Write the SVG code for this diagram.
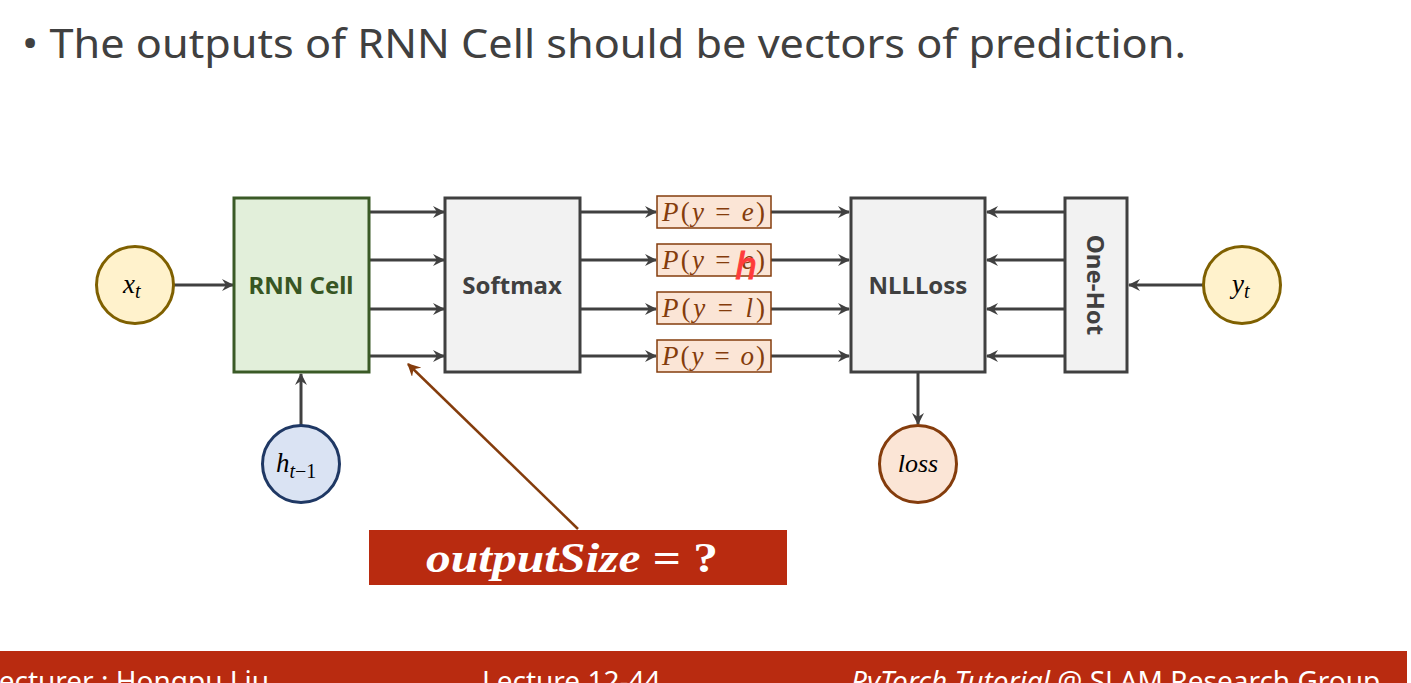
<svg xmlns="http://www.w3.org/2000/svg" width="1411" height="683" viewBox="0 0 1411 683">
<defs>
<style>
.box{stroke-width:3}
.gray{fill:#f2f2f2;stroke:#404040}
.lbl{font-family:"Noto Sans","Open Sans",sans-serif;font-weight:bold;font-size:24px;text-anchor:middle}
.math{font-family:"Liberation Serif","DejaVu Serif",serif;font-style:italic}
.up{font-style:normal}
.pbox{fill:#fbe5d6;stroke:#843c0c;stroke-width:1.5}
.ptxt{font-family:"Liberation Serif","DejaVu Serif",serif;font-size:27px;fill:#843c0c;font-style:italic}
.ln{stroke:#404040;stroke-width:3;fill:none}
.foot{font-family:"Noto Sans","Open Sans",sans-serif;font-size:28px;fill:#fff}
</style>
<marker id="ah" viewBox="0 0 12 12" refX="11" refY="6" markerWidth="12" markerHeight="12" markerUnits="userSpaceOnUse" orient="auto">
<path d="M0,0 L12,6 L0,12 L4,6 z" fill="#404040"/>
</marker>
<marker id="ahb" viewBox="0 0 12 12" refX="11" refY="6" markerWidth="13" markerHeight="13" markerUnits="userSpaceOnUse" orient="auto">
<path d="M0,0 L12,6 L0,12 L4,6 z" fill="#843c0c"/>
</marker>
</defs>
<rect width="1411" height="683" fill="#fff"/>
<text x="22" y="58" font-family="Noto Sans,Open Sans,sans-serif" font-size="40" fill="#404040" textLength="1164" lengthAdjust="spacingAndGlyphs">• The outputs of RNN Cell should be vectors of prediction.</text>

<g id="connectors">
<line class="ln" x1="174" y1="285" x2="233" y2="285" marker-end="url(#ah)"/>
<line class="ln" x1="301" y1="425" x2="301" y2="374" marker-end="url(#ah)"/>
<line class="ln" x1="369" y1="212" x2="444" y2="212" marker-end="url(#ah)"/>
<line class="ln" x1="369" y1="260" x2="444" y2="260" marker-end="url(#ah)"/>
<line class="ln" x1="369" y1="309" x2="444" y2="309" marker-end="url(#ah)"/>
<line class="ln" x1="369" y1="356" x2="444" y2="356" marker-end="url(#ah)"/>
<line class="ln" x1="580" y1="212" x2="656" y2="212" marker-end="url(#ah)"/>
<line class="ln" x1="580" y1="260" x2="656" y2="260" marker-end="url(#ah)"/>
<line class="ln" x1="580" y1="309" x2="656" y2="309" marker-end="url(#ah)"/>
<line class="ln" x1="580" y1="356" x2="656" y2="356" marker-end="url(#ah)"/>
<line class="ln" x1="771" y1="212" x2="849" y2="212" marker-end="url(#ah)"/>
<line class="ln" x1="771" y1="260" x2="849" y2="260" marker-end="url(#ah)"/>
<line class="ln" x1="771" y1="309" x2="849" y2="309" marker-end="url(#ah)"/>
<line class="ln" x1="771" y1="356" x2="849" y2="356" marker-end="url(#ah)"/>
<line class="ln" x1="1065" y1="212" x2="987" y2="212" marker-end="url(#ah)"/>
<line class="ln" x1="1065" y1="260" x2="987" y2="260" marker-end="url(#ah)"/>
<line class="ln" x1="1065" y1="309" x2="987" y2="309" marker-end="url(#ah)"/>
<line class="ln" x1="1065" y1="356" x2="987" y2="356" marker-end="url(#ah)"/>
<line class="ln" x1="1203" y1="285" x2="1129" y2="285" marker-end="url(#ah)"/>
<line class="ln" x1="918" y1="372" x2="918" y2="424" marker-end="url(#ah)"/>
<line x1="578" y1="529" x2="408" y2="364" stroke="#843c0c" stroke-width="2.5" marker-end="url(#ahb)"/>
</g>

<g id="rnn">
<rect class="box" x="234" y="198" width="135" height="174" fill="#e2efda" stroke="#3a5a26"/>
<text class="lbl" x="301" y="294" fill="#375623">RNN Cell</text>
</g>
<g id="softmax">
<rect class="box gray" x="445" y="198" width="135" height="174"/>
<text class="lbl" x="512" y="294" fill="#404040">Softmax</text>
</g>
<g id="nllloss">
<rect class="box gray" x="851" y="198" width="134" height="174"/>
<text class="lbl" x="918" y="294" fill="#404040">NLLLoss</text>
</g>
<g id="onehot">
<rect class="box gray" x="1065" y="198" width="62" height="174"/>
<text class="lbl" transform="translate(1096,285) rotate(90)" x="0" y="9" fill="#404040">One-Hot</text>
</g>

<g id="p_e">
<rect class="pbox" x="657" y="196" width="114" height="32"/>
<text class="ptxt" x="662" y="221" textLength="103" lengthAdjust="spacing">P<tspan class="up">(</tspan>y <tspan class="up">=</tspan> e<tspan class="up">)</tspan></text>
</g>
<g id="p_h">
<rect class="pbox" x="657" y="244" width="114" height="32"/>
<text class="ptxt" x="662" y="269" textLength="103" lengthAdjust="spacing">P<tspan class="up">(</tspan>y <tspan class="up">=</tspan> e<tspan class="up">)</tspan></text>
<text x="746" y="279" font-family="Liberation Sans,sans-serif" font-style="italic" font-size="38" fill="#ff3b3b" text-anchor="middle" stroke="#ff3b3b" stroke-width="1">h</text>
</g>
<g id="p_l">
<rect class="pbox" x="657" y="292" width="114" height="32"/>
<text class="ptxt" x="662" y="317" textLength="103" lengthAdjust="spacing">P<tspan class="up">(</tspan>y <tspan class="up">=</tspan> l<tspan class="up">)</tspan></text>
</g>
<g id="p_o">
<rect class="pbox" x="657" y="340" width="114" height="32"/>
<text class="ptxt" x="662" y="365" textLength="103" lengthAdjust="spacing">P<tspan class="up">(</tspan>y <tspan class="up">=</tspan> o<tspan class="up">)</tspan></text>
</g>

<g id="xt">
<circle cx="135" cy="285" r="38.5" fill="#fff2cc" stroke="#7f6000" stroke-width="3"/>
<text class="math" x="123" y="293" font-size="27" fill="#000">x<tspan font-size="20" dy="5">t</tspan></text>
</g>
<g id="yt">
<circle cx="1242" cy="285" r="38.5" fill="#fff2cc" stroke="#7f6000" stroke-width="3"/>
<text class="math" x="1232" y="293" font-size="27" fill="#000">y<tspan font-size="20" dy="5">t</tspan></text>
</g>
<g id="ht1">
<circle cx="301" cy="464" r="38.5" fill="#dae3f3" stroke="#1f3864" stroke-width="3"/>
<text class="math" x="276" y="472" font-size="27" fill="#000">h<tspan font-size="20" dy="6">t</tspan><tspan class="up" font-size="20">−1</tspan></text>
</g>
<g id="loss">
<circle cx="918" cy="464" r="38.5" fill="#fbe5d6" stroke="#843c0c" stroke-width="3"/>
<text class="math" x="918" y="472" font-size="26" fill="#000" text-anchor="middle">loss</text>
</g>

<g id="outputsize">
<rect x="369" y="530" width="418" height="55" fill="#b92b10"/>
<text x="426" y="572" font-family="Liberation Serif,DejaVu Serif,serif" font-size="42" font-weight="bold" fill="#fff" textLength="292" lengthAdjust="spacingAndGlyphs"><tspan font-style="italic">outputSize</tspan> = ?</text>
</g>

<g id="footer">
<rect x="0" y="651" width="1407" height="32" fill="#b92b10"/>
<text class="foot" x="-16" y="691">Lecturer : Hongpu Liu</text>
<text class="foot" x="482" y="691">Lecture 12-44</text>
<text class="foot" x="851" y="691"><tspan font-style="italic">PyTorch Tutorial</tspan> @ SLAM Research Group</text>
</g>
</svg>
